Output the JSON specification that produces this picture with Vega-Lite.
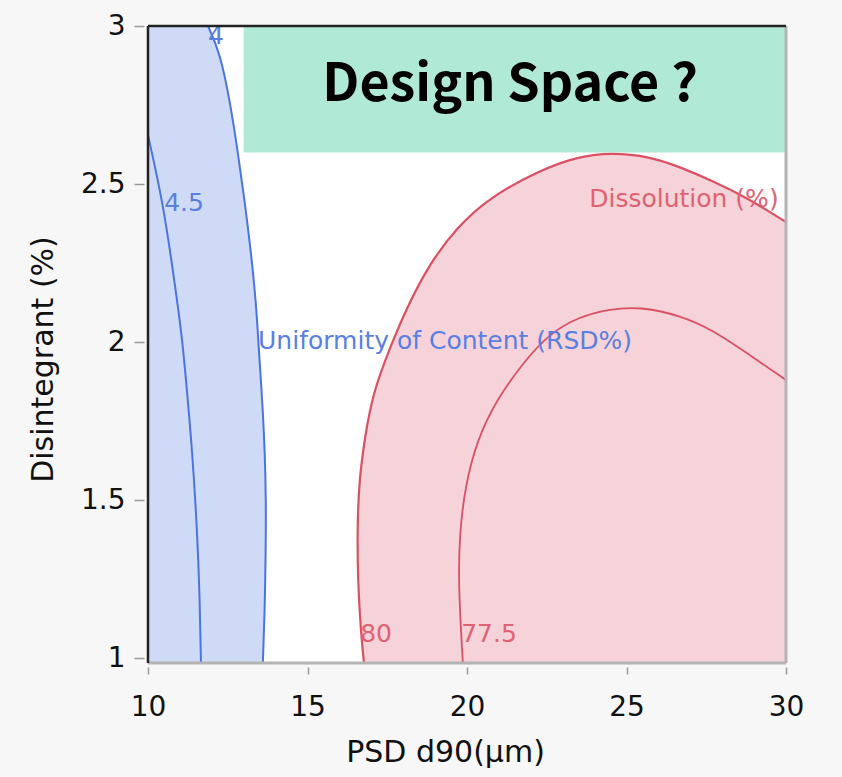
{
  "$schema": "https://vega.github.io/schema/vega-lite/v6.json",
  "autosize": "none",
  "width": 638,
  "height": 637,
  "padding": {"left": 148, "top": 26, "right": 56, "bottom": 114},
  "background": "#f7f7f7",
  "config": {
    "view": {"fill": "white", "stroke": null},
    "axis": {
      "labelFont": "DejaVu Sans", "labelFontSize": 28, "labelColor": "#111", "labelFlush": false,
      "titleFont": "DejaVu Sans", "titleFontSize": 30, "titleFontWeight": "normal", "titleColor": "#111",
      "domain": false, "grid": false, "tickColor": "#999", "tickWidth": 1.5
    }
  },
  "datasets": {
    "u4": [
      {"x": 13.6, "y": 0.985}, {"x": 13.66, "y": 1.15}, {"x": 13.69, "y": 1.342}, {"x": 13.7, "y": 1.5},
      {"x": 13.66, "y": 1.658}, {"x": 13.6, "y": 1.78}, {"x": 13.54, "y": 1.88}, {"x": 13.48, "y": 1.965},
      {"x": 13.39, "y": 2.123}, {"x": 13.23, "y": 2.282}, {"x": 13.04, "y": 2.44}, {"x": 12.82, "y": 2.598},
      {"x": 12.58, "y": 2.756}, {"x": 12.26, "y": 2.915}, {"x": 11.88, "y": 3.0}
    ],
    "u45": [
      {"x": 11.66, "y": 0.985}, {"x": 11.62, "y": 1.2}, {"x": 11.54, "y": 1.405}, {"x": 11.38, "y": 1.668},
      {"x": 11.19, "y": 1.88}, {"x": 11.07, "y": 2.016}, {"x": 10.78, "y": 2.228}, {"x": 10.47, "y": 2.44},
      {"x": 10.0, "y": 2.655}
    ],
    "d80": [
      {"o": 1, "x": 16.77, "y": 0.985}, {"o": 2, "x": 16.66, "y": 1.1}, {"o": 3, "x": 16.58, "y": 1.248},
      {"o": 4, "x": 16.56, "y": 1.406}, {"o": 5, "x": 16.62, "y": 1.565}, {"o": 6, "x": 16.8, "y": 1.7},
      {"o": 7, "x": 17.05, "y": 1.839}, {"o": 8, "x": 17.59, "y": 1.984}, {"o": 9, "x": 18.12, "y": 2.111},
      {"o": 10, "x": 18.84, "y": 2.25}, {"o": 11, "x": 19.69, "y": 2.364}, {"o": 12, "x": 20.72, "y": 2.459},
      {"o": 13, "x": 22.29, "y": 2.544}, {"o": 14, "x": 23.4, "y": 2.585}, {"o": 15, "x": 24.5, "y": 2.6},
      {"o": 16, "x": 25.74, "y": 2.587}, {"o": 17, "x": 26.65, "y": 2.555}, {"o": 18, "x": 27.7, "y": 2.51},
      {"o": 19, "x": 28.74, "y": 2.459}, {"o": 20, "x": 30.0, "y": 2.38}
    ],
    "d80low": [
      {"x": 16.77, "y": 0.985}, {"x": 16.66, "y": 1.1}, {"x": 16.58, "y": 1.248}, {"x": 16.56, "y": 1.406},
      {"x": 16.62, "y": 1.565}, {"x": 16.8, "y": 1.7}, {"x": 17.05, "y": 1.839}, {"x": 17.59, "y": 1.984},
      {"x": 18.12, "y": 2.111}, {"x": 18.84, "y": 2.25}, {"x": 19.69, "y": 2.364}
    ],
    "d80cap": [
      {"x": 18.84, "y": 2.25}, {"x": 19.69, "y": 2.364}, {"x": 20.72, "y": 2.459}, {"x": 22.29, "y": 2.544},
      {"x": 23.4, "y": 2.585}, {"x": 24.5, "y": 2.6}, {"x": 25.74, "y": 2.587}, {"x": 26.65, "y": 2.555},
      {"x": 27.7, "y": 2.51}, {"x": 28.74, "y": 2.459}, {"x": 30.0, "y": 2.38}
    ],
    "d775": [
      {"o": 1, "x": 19.87, "y": 0.985}, {"o": 2, "x": 19.72, "y": 1.248}, {"o": 3, "x": 19.78, "y": 1.406},
      {"o": 4, "x": 19.94, "y": 1.541}, {"o": 5, "x": 20.31, "y": 1.69}, {"o": 6, "x": 20.94, "y": 1.82},
      {"o": 7, "x": 21.8, "y": 1.94}, {"o": 8, "x": 22.6, "y": 2.028}, {"o": 9, "x": 23.5, "y": 2.08},
      {"o": 10, "x": 24.5, "y": 2.105}, {"o": 11, "x": 25.4, "y": 2.112}, {"o": 12, "x": 26.68, "y": 2.085},
      {"o": 13, "x": 27.71, "y": 2.038}, {"o": 14, "x": 28.78, "y": 1.965}, {"o": 15, "x": 30.0, "y": 1.88}
    ],
    "labels": [
      {"x": 12.13, "y": 2.968, "text": "4", "c": "#5b7fe0"},
      {"x": 11.13, "y": 2.44, "text": "4.5", "c": "#5b7fe0"},
      {"x": 26.8, "y": 2.453, "text": "Dissolution (%)", "c": "#e06272"},
      {"x": 17.15, "y": 1.076, "text": "80", "c": "#e06272"},
      {"x": 20.69, "y": 1.076, "text": "77.5", "c": "#e06272"}
    ],
    "frame": [
      {"x": 10, "y": 0.985, "s": "left"}, {"x": 10, "y": 3, "s": "left"},
      {"x": 10, "y": 3, "s": "top"}, {"x": 30, "y": 3, "s": "top"},
      {"x": 30, "y": 3, "s": "right"}, {"x": 30, "y": 0.985, "s": "right"},
      {"x": 10, "y": 0.985, "s": "bottom"}, {"x": 30, "y": 0.985, "s": "bottom"}
    ]
  },
  "encoding": {
    "x": {"field": "x", "type": "quantitative",
      "scale": {"domain": [10, 30], "nice": false, "zero": false},
      "axis": {"values": [10, 15, 20, 25, 30], "format": "d", "offset": 4, "tickSize": 7, "labelPadding": 19,
        "title": "PSD d90(μm)", "titlePadding": 16, "titleX": 297}},
    "y": {"field": "y", "type": "quantitative",
      "scale": {"domain": [0.985, 3], "nice": false, "zero": false},
      "axis": {"values": [1, 1.5, 2, 2.5, 3], "format": "~g", "offset": 4, "tickSize": 10, "labelPadding": 9,
        "title": "Disintegrant (%)", "titlePadding": 22, "titleY": 333}}
  },
  "layer": [
    {
      "data": {"values": [{"x": 13, "x2": 30, "y": 2.6, "y2": 3}]},
      "mark": {"type": "rect", "color": "#b0ead6", "clip": true},
      "encoding": {"x2": {"field": "x2"}, "y2": {"field": "y2"}}
    },
    {
      "data": {"name": "u4"},
      "mark": {"type": "area", "orient": "horizontal", "color": "#cfdbf6", "interpolate": "basis", "clip": true},
      "encoding": {"x2": {"datum": 10}}
    },
    {
      "data": {"name": "d80low"},
      "mark": {"type": "area", "orient": "horizontal", "color": "#f5d3d8", "interpolate": "basis", "clip": true},
      "encoding": {"x2": {"datum": 30}}
    },
    {
      "data": {"name": "d80cap"},
      "mark": {"type": "area", "orient": "vertical", "color": "#f5d3d8", "interpolate": "basis", "clip": true},
      "encoding": {"y2": {"datum": 2.2}}
    },
    {
      "data": {"name": "u4"},
      "mark": {"type": "line", "color": "#4a74e0", "strokeWidth": 2, "interpolate": "basis", "clip": true},
      "encoding": {"order": {"field": "y", "type": "quantitative"}}
    },
    {
      "data": {"name": "u45"},
      "mark": {"type": "line", "color": "#4a74e0", "strokeWidth": 2, "interpolate": "basis", "clip": true},
      "encoding": {"order": {"field": "y", "type": "quantitative"}}
    },
    {
      "data": {"name": "d80"},
      "mark": {"type": "line", "color": "#dc5064", "strokeWidth": 2.2, "interpolate": "basis", "clip": true},
      "encoding": {"order": {"field": "o", "type": "quantitative"}}
    },
    {
      "data": {"name": "d775"},
      "mark": {"type": "line", "color": "#dc5064", "strokeWidth": 1.8, "interpolate": "basis", "clip": true},
      "encoding": {"order": {"field": "o", "type": "quantitative"}}
    },
    {
      "data": {"name": "labels"},
      "mark": {"type": "text", "font": "DejaVu Sans", "fontSize": 25, "baseline": "middle", "align": "center"},
      "encoding": {
        "text": {"field": "text"},
        "color": {"field": "c", "type": "nominal", "scale": null}
      }
    },
    {
      "data": {"values": [{"x": 13.45, "y": 2.003, "text": "Uniformity of Content (RSD%)"}]},
      "mark": {"type": "text", "font": "DejaVu Sans", "fontSize": 25, "baseline": "middle", "align": "left", "color": "#5b7fe0"},
      "encoding": {"text": {"field": "text"}}
    },
    {
      "data": {"values": [{"x": 21.35, "y": 2.813, "text": "Design Space ?"}]},
      "mark": {"type": "text", "font": "Noto Sans CJK JP", "fontWeight": "bold", "fontSize": 52, "baseline": "middle", "align": "center", "color": "#000"},
      "encoding": {"text": {"field": "text"}}
    },
    {
      "data": {"name": "frame"},
      "transform": [{"filter": "datum.s == 'right' || datum.s == 'bottom'"}],
      "mark": {"type": "line", "color": "#b4b4b4", "strokeWidth": 3},
      "encoding": {"detail": {"field": "s"}, "order": {"field": "y", "type": "quantitative"}}
    },
    {
      "data": {"name": "frame"},
      "transform": [{"filter": "datum.s == 'left' || datum.s == 'top'"}],
      "mark": {"type": "line", "color": "#222", "strokeWidth": 2.5},
      "encoding": {"detail": {"field": "s"}, "order": {"field": "y", "type": "quantitative"}}
    }
  ]
}
